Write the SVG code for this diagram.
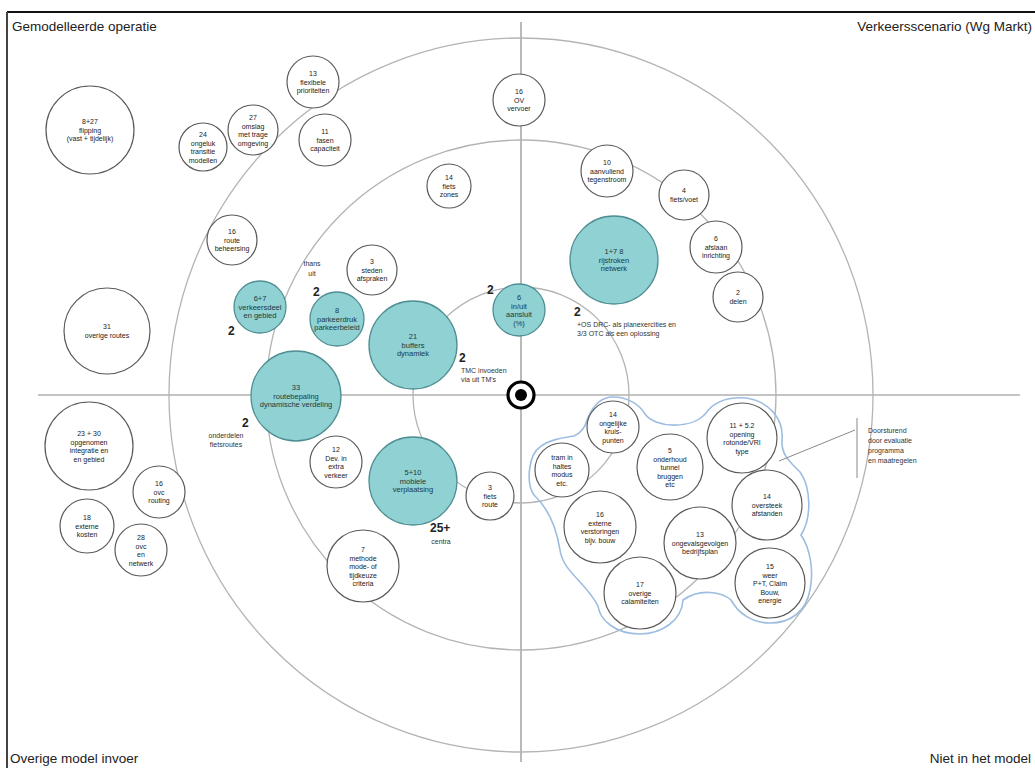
<svg xmlns="http://www.w3.org/2000/svg" width="1035" height="768" viewBox="0 0 1035 768">
<style>
.w{fill:#fff;stroke:#5a5a5a;stroke-width:1.2}
.tl{fill:#90d1d3;stroke:#4f8e92;stroke-width:1.3}
.t{font-family:"Liberation Sans",Arial,sans-serif;font-size:7px;fill:#222;text-anchor:middle}
.tt{font-family:"Liberation Sans",Arial,sans-serif;font-size:7.5px;fill:#1d3a3c;text-anchor:middle}
.a{font-family:"Liberation Sans",Arial,sans-serif;font-size:7px;fill:#333}
.b{font-family:"Liberation Sans",Arial,sans-serif;font-size:12px;font-weight:bold;fill:#222}
.h{font-family:"Liberation Sans",Arial,sans-serif;font-size:13.5px;fill:#222}
.ring{fill:none;stroke:#b4b4b4;stroke-width:1.3}
.axis{stroke:#8a8a8a;stroke-width:1.2}
.ln{stroke:#8a8a8a;stroke-width:1;fill:none}
</style>
<rect width="1035" height="768" fill="#fff"/>
<line x1="7" y1="12" x2="1035" y2="12" stroke="#111" stroke-width="2.2"/>
<line x1="7" y1="12" x2="7" y2="768" stroke="#444" stroke-width="2"/>
<text class="h" x="12" y="31">Gemodelleerde operatie</text>
<text class="h" x="1032" y="31" text-anchor="end">Verkeersscenario (Wg Markt)</text>
<text class="h" x="10" y="763" font-size="12">Overige model invoer</text>
<text class="h" x="1031" y="763" font-size="12" text-anchor="end">Niet in het model</text>

<g id="connectors">
<line class="axis" x1="38" y1="395" x2="1020" y2="395"/>
<line class="axis" x1="521" y1="22" x2="521" y2="762"/>
<circle class="ring" cx="521" cy="395" r="108"/>
<circle class="ring" cx="521" cy="395" r="255"/>
<ellipse class="ring" cx="521" cy="395" rx="352" ry="357"/>
<path d="M613 397 C628 397 640 405 645 414 C655 428 692 430 706 413 C716 399 732 397 746 398 C768 401 784 418 782 440 C781 455 790 462 800 472 C811 487 812 518 801 535 C810 548 814 570 810 590 C806 612 790 623 770 623 C752 623 738 613 731 600 C722 592 700 588 683 600 C682 620 662 634 640 634 C615 634 600 620 598 606 C586 582 563 572 560 550 C556 525 548 508 534 495 C526 484 528 455 540 447 C548 440 562 438 574 436 C581 433 585 428 587 420 C592 407 600 397 613 397 Z" fill="none" stroke="#9dbde0" stroke-width="1.6"/>
<polyline class="ln" points="779,461 855,430"/>
<line class="ln" x1="857" y1="418" x2="857" y2="478"/>
</g>

<g id="center"><circle cx="521" cy="395" r="13" fill="#fff" stroke="#000" stroke-width="3.2"/><circle cx="521" cy="395" r="6" fill="#000"/></g>

<g id="n1"><circle class="w" cx="90" cy="130" r="44"/><text class="t" x="90" y="124">8+27<tspan x="90" dy="8.5">flipping</tspan><tspan x="90" dy="8.5">(vast + tijdelijk)</tspan></text></g>
<g id="n2"><circle class="w" cx="203" cy="147" r="24"/><text class="t" x="203" y="137">24<tspan x="203" dy="8.5">ongeluk</tspan><tspan x="203" dy="8.5">transitie</tspan><tspan x="203" dy="8.5">modellen</tspan></text></g>
<g id="n3"><circle class="w" cx="253" cy="130" r="25"/><text class="t" x="253" y="120">27<tspan x="253" dy="8.5">omslag</tspan><tspan x="253" dy="8.5">met trage</tspan><tspan x="253" dy="8.5">omgeving</tspan></text></g>
<g id="n4"><circle class="w" cx="313" cy="82" r="26"/><text class="t" x="313" y="76">13<tspan x="313" dy="8.5">flexibele</tspan><tspan x="313" dy="8.5">prioriteiten</tspan></text></g>
<g id="n5"><circle class="w" cx="325" cy="140" r="26"/><text class="t" x="325" y="134">11<tspan x="325" dy="8.5">fasen</tspan><tspan x="325" dy="8.5">capaciteit</tspan></text></g>
<g id="n6"><circle class="w" cx="519" cy="100" r="26"/><text class="t" x="519" y="94">16<tspan x="519" dy="8.5">OV</tspan><tspan x="519" dy="8.5">vervoer</tspan></text></g>
<g id="n7"><circle class="w" cx="449" cy="186" r="22"/><text class="t" x="449" y="180">14<tspan x="449" dy="8.5">fiets</tspan><tspan x="449" dy="8.5">zones</tspan></text></g>
<g id="n8"><circle class="w" cx="607" cy="171" r="26"/><text class="t" x="607" y="165">10<tspan x="607" dy="8.5">aanvullend</tspan><tspan x="607" dy="8.5">tegenstroom</tspan></text></g>
<g id="n9"><circle class="w" cx="684" cy="195" r="25"/><text class="t" x="684" y="193">4<tspan x="684" dy="8.5">fiets/voet</tspan></text></g>
<g id="n10"><circle class="w" cx="716" cy="247" r="26"/><text class="t" x="716" y="241">6<tspan x="716" dy="8.5">afslaan</tspan><tspan x="716" dy="8.5">inrichting</tspan></text></g>
<g id="n11"><circle class="w" cx="738" cy="297" r="25"/><text class="t" x="738" y="295">2<tspan x="738" dy="8.5">delen</tspan></text></g>
<g id="n12"><circle class="w" cx="232" cy="240" r="25"/><text class="t" x="232" y="234">16<tspan x="232" dy="8.5">route</tspan><tspan x="232" dy="8.5">beheersing</tspan></text></g>
<g id="n13"><circle class="w" cx="372" cy="270" r="25"/><text class="t" x="372" y="264">3<tspan x="372" dy="8.5">steden</tspan><tspan x="372" dy="8.5">afspraken</tspan></text></g>
<g id="n14"><circle class="tl" cx="260" cy="307" r="26"/><text class="tt" x="260" y="301">6+7<tspan x="260" dy="8.5">verkeersdeel</tspan><tspan x="260" dy="8.5">en gebied</tspan></text></g>
<g id="n15"><circle class="tl" cx="337" cy="319" r="27"/><text class="tt" x="337" y="313">8<tspan x="337" dy="8.5">parkeerdruk</tspan><tspan x="337" dy="8.5">parkeerbeleid</tspan></text></g>
<g id="n16"><circle class="tl" cx="413" cy="345" r="44"/><text class="tt" x="413" y="339">21<tspan x="413" dy="8.5">buffers</tspan><tspan x="413" dy="8.5">dynamiek</tspan></text></g>
<g id="n17"><circle class="tl" cx="519" cy="310" r="26"/><text class="tt" x="519" y="300">6<tspan x="519" dy="8.5">in/uit</tspan><tspan x="519" dy="8.5">aansluit</tspan><tspan x="519" dy="8.5">(%)</tspan></text></g>
<g id="n18"><circle class="tl" cx="614" cy="260" r="44"/><text class="tt" x="614" y="254">1+7 8<tspan x="614" dy="8.5">rijstroken</tspan><tspan x="614" dy="8.5">netwerk</tspan></text></g>
<g id="n19"><circle class="w" cx="107" cy="331" r="43"/><text class="t" x="107" y="329">31<tspan x="107" dy="8.5">overige routes</tspan></text></g>
<g id="n20"><circle class="tl" cx="296" cy="396" r="45"/><text class="tt" x="296" y="390">33<tspan x="296" dy="8.5">routebepaling</tspan><tspan x="296" dy="8.5">dynamische verdeling</tspan></text></g>
<g id="n21"><circle class="w" cx="89" cy="446" r="44"/><text class="t" x="89" y="436">23 + 30<tspan x="89" dy="8.5">opgenomen</tspan><tspan x="89" dy="8.5">integratie en</tspan><tspan x="89" dy="8.5">en gebied</tspan></text></g>
<g id="n22"><circle class="w" cx="159" cy="492" r="26"/><text class="t" x="159" y="486">16<tspan x="159" dy="8.5">ovc</tspan><tspan x="159" dy="8.5">routing</tspan></text></g>
<g id="n23"><circle class="w" cx="87" cy="526" r="27"/><text class="t" x="87" y="520">18<tspan x="87" dy="8.5">externe</tspan><tspan x="87" dy="8.5">kosten</tspan></text></g>
<g id="n24"><circle class="w" cx="141" cy="550" r="26"/><text class="t" x="141" y="540">28<tspan x="141" dy="8.5">ovc</tspan><tspan x="141" dy="8.5">en</tspan><tspan x="141" dy="8.5">netwerk</tspan></text></g>
<g id="n25"><circle class="w" cx="336" cy="462" r="26"/><text class="t" x="336" y="452">12<tspan x="336" dy="8.5">Dev. in</tspan><tspan x="336" dy="8.5">extra</tspan><tspan x="336" dy="8.5">verkeer</tspan></text></g>
<g id="n26"><circle class="tl" cx="413" cy="481" r="44"/><text class="tt" x="413" y="475">5+10<tspan x="413" dy="8.5">mobiele</tspan><tspan x="413" dy="8.5">verplaatsing</tspan></text></g>
<g id="n27"><circle class="w" cx="490" cy="496" r="24"/><text class="t" x="490" y="490">3<tspan x="490" dy="8.5">fiets</tspan><tspan x="490" dy="8.5">route</tspan></text></g>
<g id="n28"><circle class="w" cx="363" cy="566" r="36"/><text class="t" x="363" y="552">7<tspan x="363" dy="8.5">methode</tspan><tspan x="363" dy="8.5">mode- of</tspan><tspan x="363" dy="8.5">tijdkeuze</tspan><tspan x="363" dy="8.5">criteria</tspan></text></g>

<g id="c1"><circle class="w" cx="613" cy="427" r="26"/><text class="t" x="613" y="417">14<tspan x="613" dy="8.5">ongelijke</tspan><tspan x="613" dy="8.5">kruis-</tspan><tspan x="613" dy="8.5">punten</tspan></text></g>
<g id="c2"><circle class="w" cx="562" cy="470" r="27"/><text class="t" x="562" y="460">tram in<tspan x="562" dy="8.5">haltes</tspan><tspan x="562" dy="8.5">modus</tspan><tspan x="562" dy="8.5">etc.</tspan></text></g>
<g id="c3"><circle class="w" cx="670" cy="467" r="33"/><text class="t" x="670" y="453">5<tspan x="670" dy="8.5">onderhoud</tspan><tspan x="670" dy="8.5">tunnel</tspan><tspan x="670" dy="8.5">bruggen</tspan><tspan x="670" dy="8.5">etc</tspan></text></g>
<g id="c4"><circle class="w" cx="742" cy="438" r="35"/><text class="t" x="742" y="428">11 + 5.2<tspan x="742" dy="8.5">opening</tspan><tspan x="742" dy="8.5">rotonde/VRI</tspan><tspan x="742" dy="8.5">type</tspan></text></g>
<g id="c5"><circle class="w" cx="767" cy="505" r="35"/><text class="t" x="767" y="499">14<tspan x="767" dy="8.5">oversteek</tspan><tspan x="767" dy="8.5">afstanden</tspan></text></g>
<g id="c6"><circle class="w" cx="600" cy="527" r="36"/><text class="t" x="600" y="517">16<tspan x="600" dy="8.5">externe</tspan><tspan x="600" dy="8.5">verstoringen</tspan><tspan x="600" dy="8.5">bijv. bouw</tspan></text></g>
<g id="c7"><circle class="w" cx="700" cy="543" r="36"/><text class="t" x="700" y="537">13<tspan x="700" dy="8.5">ongevalsgevolgen</tspan><tspan x="700" dy="8.5">bedrijfsplan</tspan></text></g>
<g id="c8"><circle class="w" cx="640" cy="593" r="36"/><text class="t" x="640" y="587">17<tspan x="640" dy="8.5">overige</tspan><tspan x="640" dy="8.5">calamiteiten</tspan></text></g>
<g id="c9"><circle class="w" cx="770" cy="583" r="35"/><text class="t" x="770" y="569">15<tspan x="770" dy="8.5">weer</tspan><tspan x="770" dy="8.5">P+T, Claim</tspan><tspan x="770" dy="8.5">Bouw,</tspan><tspan x="770" dy="8.5">energie</tspan></text></g>

<g id="labels">
<text class="a" x="312" y="266" text-anchor="middle">thans</text>
<text class="a" x="312" y="276" text-anchor="middle">uit</text>
<text class="b" x="313" y="296">2</text>
<text class="b" x="228" y="335">2</text>
<text class="b" x="487" y="294">2</text>
<text class="b" x="459" y="362">2</text>
<text class="a" x="461" y="373">TMC invoeden</text>
<text class="a" x="461" y="382">via uit TM's</text>
<text class="b" x="574" y="316">2</text>
<text class="a" x="577" y="327">+OS DRC- als planexercities en</text>
<text class="a" x="577" y="336">3/3 OTC als een oplossing</text>
<text class="b" x="242" y="427">2</text>
<text class="a" x="226" y="438" text-anchor="middle">onderdelen</text>
<text class="a" x="226" y="447" text-anchor="middle">fietsroutes</text>
<text class="b" x="430" y="532">25+</text>
<text class="a" x="441" y="544" text-anchor="middle">centra</text>
<text class="a" x="868" y="433">Doorsturend</text>
<text class="a" x="868" y="443">door evaluatie</text>
<text class="a" x="868" y="453">programma</text>
<text class="a" x="868" y="463">en maatregelen</text>
</g>
</svg>
